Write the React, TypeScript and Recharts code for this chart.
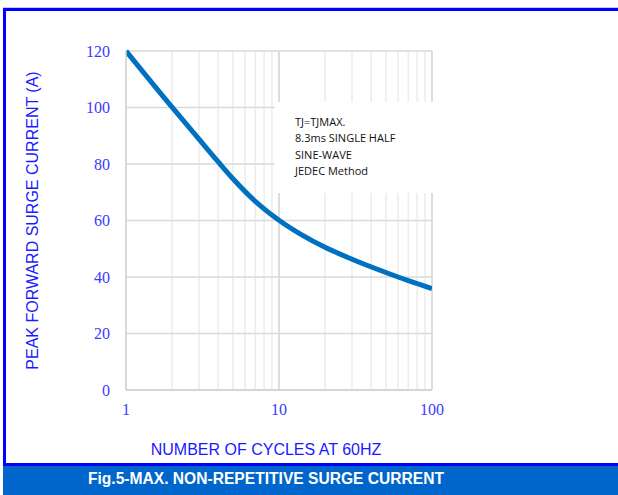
import { LineChart, Line, XAxis, YAxis, CartesianGrid, ReferenceLine } from 'recharts';

// cycles at 60Hz vs peak forward surge current (A)
const cycles = [1, 2, 3, 4, 5, 7, 10, 14, 20, 30, 50, 70, 100];
const current = [120, 100.1, 88.8, 80.8, 74.8, 66.8, 60.1, 55, 50.5, 46.3, 41.6, 38.7, 35.9];

const xTicks = [1, 2, 3, 4, 5, 6, 7, 8, 9, 10, 20, 30, 40, 50, 60, 70, 80, 90, 100];
const xLabels = [1, 10, 100];
const yTicks = [0, 20, 40, 60, 80, 100, 120];
const majorLines = [10, 100];

const noteLines = ['TJ=TJMAX.', '8.3ms SINGLE HALF', 'SINE-WAVE', 'JEDEC Method'];

const data = cycles.map((n, i) => ({ n, a: current[i] }));

const tickStyle = { fill: '#3b3bff', fontSize: 16, fontFamily: '"Liberation Serif", serif' };

export default function App() {
  return (
    <div style={{ position: 'fixed', left: 0, top: 0, width: 618, height: 495, background: '#fff', overflow: 'hidden' }}>
      <div
        style={{
          position: 'absolute', left: 3, top: 8, width: 620, height: 458,
          borderTop: '3px solid #0000ff', borderLeft: '3px solid #0000ff', borderBottom: '3px solid #0000ff',
          boxSizing: 'border-box',
        }}
      />
      <div style={{ position: 'absolute', left: 3, top: 7, width: 615, height: 1, background: '#c8c8ff' }} />
      <div style={{ position: 'absolute', left: 0, top: 0 }}>
        <LineChart width={618} height={495} data={data} margin={{ top: 51, right: 186, bottom: 75, left: 66 }}>
          <CartesianGrid stroke="#ececec" strokeWidth={1.5} vertical={true} horizontal={false} />
          <CartesianGrid stroke="#d9d9d9" strokeWidth={1.5} vertical={false} />
          {majorLines.map((v) => (
            <ReferenceLine key={v} x={v} stroke="#d6d6d6" strokeWidth={1.5} />
          ))}
          <XAxis
            dataKey="n"
            type="number"
            scale="log"
            domain={[1, 100]}
            ticks={xTicks}
            tickFormatter={(v: number) => (xLabels.includes(v) ? String(v) : '')}
            tickLine={false}
            tickSize={0}
            tickMargin={14}
            axisLine={{ stroke: '#d0d0d0', strokeWidth: 1.5 }}
            tick={tickStyle}
            interval={0}
            allowDataOverflow
          />
          <YAxis
            type="number"
            domain={[0, 120]}
            ticks={yTicks}
            width={60}
            tickLine={false}
            tickSize={0}
            tickMargin={16}
            axisLine={{ stroke: '#d0d0d0', strokeWidth: 1.5 }}
            tick={tickStyle}
            interval={0}
            label={{
              value: 'PEAK FORWARD SURGE CURRENT (A)',
              angle: -90,
              position: 'left',
              offset: 34,
              style: { fill: '#1a1aff', fontSize: 16, fontFamily: '"Liberation Sans", Arial, sans-serif', textAnchor: 'middle' },
            }}
          />
          <Line
            type="monotone"
            dataKey="a"
            stroke="#0070c0"
            strokeWidth={5}
            dot={false}
            isAnimationActive={false}
          />
        </LineChart>
      </div>
      <div
        style={{
          position: 'absolute', left: 275, top: 102, width: 170, height: 91, background: '#fff',
          fontFamily: '"Open Sans", sans-serif', fontSize: 11, color: '#111', lineHeight: '16.4px',
          padding: '12px 0 0 20px', boxSizing: 'border-box',
        }}
      >
        {noteLines.map((t) => (
          <div key={t}>{t}</div>
        ))}
      </div>
      <div
        style={{
          position: 'absolute', left: 0, width: 532, top: 441, textAlign: 'center',
          fontFamily: '"Liberation Sans", Arial, sans-serif', fontSize: 16, color: '#1a1aff',
        }}
      >
        NUMBER OF CYCLES AT 60HZ
      </div>
      <div
        style={{
          position: 'absolute', left: 3, top: 466, width: 615, height: 29, background: '#0066cc',
        }}
      />
      <div
        style={{
          position: 'absolute', left: 0, width: 532, top: 470, textAlign: 'center',
          fontFamily: '"Liberation Sans", Arial, sans-serif', fontSize: 15.6, fontWeight: 'bold', color: '#fff',
        }}
      >
        Fig.5-MAX. NON-REPETITIVE SURGE CURRENT
      </div>
    </div>
  );
}
